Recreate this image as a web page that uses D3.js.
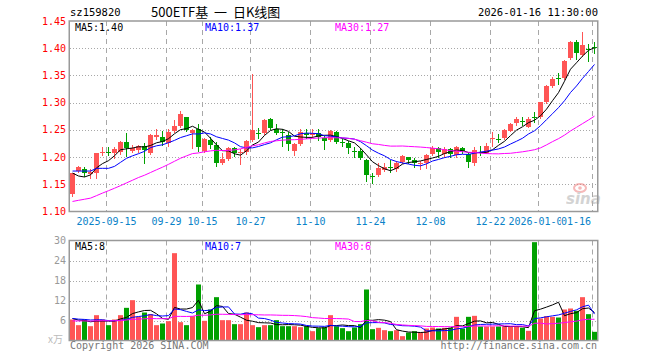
<!DOCTYPE html>
<html><head><meta charset="utf-8">
<script src="https://cdn.jsdelivr.net/npm/d3@7"></script>
<style>body{margin:0;background:#fff}svg{display:block}</style>
</head><body>
<svg id="c" width="660" height="360"></svg>
<script>
// ---------------- data ----------------
const dates = ["2025-09-05","2025-09-08","2025-09-09","2025-09-10","2025-09-11","2025-09-12","2025-09-15","2025-09-16","2025-09-17","2025-09-18","2025-09-19","2025-09-22","2025-09-23","2025-09-24","2025-09-25","2025-09-26","2025-09-29","2025-09-30","2025-10-09","2025-10-10","2025-10-13","2025-10-14","2025-10-15","2025-10-16","2025-10-17","2025-10-20","2025-10-21","2025-10-22","2025-10-23","2025-10-24","2025-10-27","2025-10-28","2025-10-29","2025-10-30","2025-10-31","2025-11-03","2025-11-04","2025-11-05","2025-11-06","2025-11-07","2025-11-10","2025-11-11","2025-11-12","2025-11-13","2025-11-14","2025-11-17","2025-11-18","2025-11-19","2025-11-20","2025-11-21","2025-11-24","2025-11-25","2025-11-26","2025-11-27","2025-11-28","2025-12-01","2025-12-02","2025-12-03","2025-12-04","2025-12-05","2025-12-08","2025-12-09","2025-12-10","2025-12-11","2025-12-12","2025-12-15","2025-12-16","2025-12-17","2025-12-18","2025-12-19","2025-12-22","2025-12-23","2025-12-24","2025-12-25","2025-12-26","2025-12-29","2025-12-30","2025-12-31","2026-01-05","2026-01-06","2026-01-07","2026-01-08","2026-01-09","2026-01-12","2026-01-13","2026-01-14","2026-01-15","2026-01-16"];
const opens  = [1.132,1.175,1.179,1.168,1.170,1.208,1.209,1.207,1.209,1.228,1.212,1.213,1.220,1.207,1.236,1.2375,1.226,1.248,1.258,1.273,1.245,1.251,1.211,1.231,1.222,1.190,1.197,1.216,1.208,1.209,1.231,1.244,1.244,1.270,1.252,1.246,1.2406,1.2114,1.224,1.244,1.241,1.245,1.2346,1.231,1.2456,1.228,1.2265,1.212,1.212,1.1947,1.165,1.167,1.176,1.182,1.178,1.1915,1.200,1.1947,1.188,1.190,1.205,1.216,1.206,1.2149,1.204,1.216,1.205,1.190,1.209,1.208,1.234,1.233,1.2346,1.248,1.262,1.267,1.256,1.273,1.274,1.3015,1.330,1.345,1.345,1.382,1.4114,1.388,1.398,1.402];
const highs  = [1.171,1.183,1.182,1.179,1.208,1.218,1.218,1.218,1.230,1.245,1.222,1.223,1.226,1.243,1.252,1.247,1.252,1.269,1.284,1.274,1.252,1.260,1.235,1.2375,1.227,1.207,1.219,1.219,1.215,1.231,1.352,1.254,1.270,1.271,1.260,1.252,1.2467,1.2254,1.2517,1.251,1.2517,1.2517,1.239,1.250,1.247,1.233,1.230,1.219,1.216,1.196,1.171,1.190,1.190,1.195,1.192,1.203,1.201,1.198,1.193,1.205,1.220,1.218,1.218,1.217,1.221,1.219,1.207,1.218,1.220,1.225,1.2467,1.242,1.252,1.262,1.273,1.274,1.273,1.282,1.302,1.333,1.348,1.355,1.379,1.413,1.4145,1.430,1.408,1.411];
const lows   = [1.128,1.173,1.165,1.161,1.162,1.203,1.204,1.199,1.206,1.202,1.210,1.209,1.190,1.205,1.234,1.222,1.220,1.246,1.256,1.248,1.216,1.212,1.209,1.216,1.184,1.188,1.194,1.202,1.187,1.206,1.229,1.235,1.242,1.251,1.242,1.221,1.213,1.204,1.223,1.235,1.2375,1.231,1.215,1.229,1.226,1.220,1.207,1.201,1.196,1.1566,1.152,1.165,1.175,1.172,1.175,1.190,1.189,1.181,1.178,1.180,1.2035,1.201,1.200,1.201,1.201,1.207,1.181,1.186,1.204,1.207,1.220,1.227,1.233,1.247,1.259,1.259,1.255,1.265,1.272,1.300,1.328,1.334,1.344,1.380,1.381,1.386,1.377,1.392];
const closes = [1.170,1.181,1.170,1.173,1.207,1.209,1.208,1.215,1.228,1.216,1.216,1.220,1.213,1.241,1.241,1.228,1.246,1.258,1.279,1.250,1.250,1.218,1.233,1.222,1.189,1.1965,1.216,1.207,1.209,1.229,1.250,1.243,1.268,1.254,1.245,1.245,1.224,1.224,1.2467,1.241,1.245,1.2375,1.230,1.248,1.2283,1.227,1.2162,1.211,1.199,1.167,1.164,1.1805,1.182,1.181,1.190,1.202,1.195,1.1886,1.189,1.203,1.216,1.210,1.215,1.205,1.219,1.211,1.1915,1.213,1.208,1.220,1.235,1.232,1.250,1.2603,1.270,1.266,1.270,1.272,1.301,1.331,1.344,1.344,1.377,1.411,1.3905,1.405,1.397,1.401];
const volumes = [6.3,4.6,6.3,4.3,7.6,6.3,4.6,6.3,7.6,9.8,12.1,7.1,8.4,7.9,4.6,5.1,5.8,26.2,5.5,4.6,7.3,16.8,5.9,9.3,13.0,6.1,6.1,4.9,4.9,8.4,4.6,4.0,4.6,4.6,6.1,4.3,4.3,4.3,4.0,4.3,2.8,3.7,4.0,7.6,4.3,3.7,2.8,3.9,4.9,15.3,3.4,3.8,3.1,2.8,3.1,1.3,2.4,2.8,2.4,3.6,3.9,3.6,3.8,3.8,7.1,3.6,7.1,7.4,4.2,4.2,4.2,4.2,4.2,4.2,4.2,3.8,2.9,29.5,6.6,7.3,7.1,6.9,9.3,9.6,8.9,13.0,7.9,2.6];
// sessions before the first visible day (only feed the moving averages)
const preCloses = [1.118,1.110,1.112,1.070,1.068,1.076,1.080,1.085,1.065,1.068,1.070,1.088,1.092,1.090,1.085,1.088,1.090,1.112,1.118,1.125,1.181,1.170,1.173,1.157,1.209,1.208,1.179,1.154,1.142];
const preVolumes = [5.2,5.8,6.1,4.9,5.5,5.3,6.0,5.7,4.8,5.6,5.9,5.2,5.4,6.2,5.0,5.7,5.5,5.8,5.3,5.6,6.5,7.2,6.0,6.9,6.4,7.0,6.8,6.3,6.6];
const tickDates  = ["2025-09-15","2025-09-29","2025-10-15","2025-10-27","2025-11-10","2025-11-24","2025-12-08","2025-12-22","2026-01-05","2026-01-16"];
const tickLabels = ["2025-09-15","09-29","10-15","10-27","11-10","11-24","12-08","12-22","2026-01-05","01-16"];
const priceTicks = [1.45,1.40,1.35,1.30,1.25,1.20,1.15,1.10];
const volTicks = [30,24,18,12,6];
const maPeriods = [5,10,30];
const priceLegend = ["MA5:1.40","MA10:1.37","MA30:1.27"];
const volLegend = ["MA5:8","MA10:7","MA30:6"];
const symbol = "sz159820";
const title = "500ETF基 一 日K线图";
const stamp = "2026-01-16 11:30:00";

// ---------------- drawing ----------------
const svg = d3.select("#c");
const MONO = "'DejaVu Sans Mono','Liberation Mono',monospace";
const RED = "#ff5555", GREEN = "#00a000";
const maColors = ["#000000","#0000ff","#ff00ff"];
const L = 70, R = 597;
const x = d3.scaleBand().domain(dates).range([L, R]).paddingInner(1/6).paddingOuter(0);
const y = d3.scaleLinear().domain([1.10, 1.45]).range([211.5, 21]);
const yv = d3.scaleLinear().domain([0, 30]).range([340.5, 240.5]);
const bw = x.bandwidth();
const cx = d => x(d) + Math.floor(bw/2) + 0.5;

function movingAvg(pre, vals, n) {
  const all = pre.concat(vals);
  const off = pre.length;
  return vals.map((_, i) => d3.mean(all.slice(off + i - n + 1, off + i + 1)));
}

// header
svg.append("text").attr("x", 70).attr("y", 16).attr("font-family", MONO).attr("font-size", 10.5).attr("fill", "#000").text(symbol);
svg.append("text").attr("x", 151).attr("y", 17).attr("font-family", "'Noto Sans CJK SC',sans-serif").attr("font-size", 13)
  .attr("fill", "#000").attr("xml:space", "preserve").style("white-space", "pre").text(title.replace(" 一 ", "  一  "));
svg.append("text").attr("x", 598).attr("y", 16).attr("text-anchor", "end").attr("font-family", MONO).attr("font-size", 10.5).attr("fill", "#000").text(stamp);

// grids
const grid = svg.append("g");
priceTicks.slice(1, -1).forEach(t => {
  grid.append("line").attr("x1", L).attr("x2", 597).attr("y1", Math.round(y(t)) + 0.5).attr("y2", Math.round(y(t)) + 0.5)
    .attr("stroke", "#a8a8a8").attr("stroke-dasharray", "1,2");
});
volTicks.slice(1).forEach(t => {
  grid.append("line").attr("x1", L).attr("x2", 597).attr("y1", Math.round(yv(t)) + 0.5).attr("y2", Math.round(yv(t)) + 0.5)
    .attr("stroke", "#a8a8a8").attr("stroke-dasharray", "1,2");
});
tickDates.forEach(d => {
  const xx = x(d) + 0.5;
  [[21, 211.5], [240.5, 340.5]].forEach(([a, b]) => {
    grid.append("line").attr("x1", xx).attr("x2", xx).attr("y1", a).attr("y2", b)
      .attr("stroke", "#a8a8a8").attr("stroke-dasharray", "5,4");
  });
});

// y labels
priceTicks.forEach(t => {
  svg.append("text").attr("x", 66).attr("y", y(t) + 3.5).attr("text-anchor", "end")
    .attr("font-family", MONO).attr("font-size", 10).attr("fill", "#ff0000").text(t.toFixed(2));
});
volTicks.forEach(t => {
  svg.append("text").attr("x", 66).attr("y", yv(t) + 3.5).attr("text-anchor", "end")
    .attr("font-family", MONO).attr("font-size", 10).attr("fill", "#999").text(t);
});
svg.append("text").attr("x", 63).attr("y", 343).attr("text-anchor", "end")
  .attr("font-family", "'Noto Sans CJK SC',sans-serif").attr("font-size", 10).attr("fill", "#bbb").text("x万");

// x labels (the last one is pulled left and drawn over its neighbour, as in the original)
const xl = svg.append("g");
tickDates.forEach((d, k) => {
  const last = k === tickDates.length - 1;
  if (last) {
    xl.append("rect").attr("x", 561).attr("y", 216).attr("width", 31).attr("height", 11).attr("fill", "#fff");
  }
  xl.append("text").attr("x", last ? 591 : x(d) + 0.5).attr("y", 225)
    .attr("text-anchor", last ? "end" : "middle")
    .attr("font-family", MONO).attr("font-size", 10).attr("fill", "#0a82c8").text(tickLabels[k]);
});

// watermark
const wm = svg.append("g").attr("opacity", 0.55);
wm.append("ellipse").attr("cx", 580).attr("cy", 188).attr("rx", 6).attr("ry", 4).attr("fill", "none").attr("stroke", "#f08080").attr("stroke-width", 2);
wm.append("circle").attr("cx", 580).attr("cy", 188).attr("r", 1.8).attr("fill", "#f08080");
wm.append("text").attr("x", 566).attr("y", 204).attr("font-family", "'DejaVu Sans',sans-serif").attr("font-size", 15)
  .attr("font-style", "italic").attr("font-weight", "bold").attr("fill", "#b0b0b0").text("sina");

// candles
const data = dates.map((d, i) => ({d, o: opens[i], h: highs[i], l: lows[i], c: closes[i], v: volumes[i]}));
const candles = svg.append("g");
data.forEach(k => {
  const col = k.c >= k.o ? RED : GREEN;
  candles.append("line").attr("x1", cx(k.d)).attr("x2", cx(k.d))
    .attr("y1", Math.round(y(k.h))).attr("y2", Math.round(y(k.l)) + 1).attr("stroke", col);
  const top = Math.round(y(Math.max(k.o, k.c)));
  const bot = Math.round(y(Math.min(k.o, k.c)));
  candles.append("rect").attr("x", x(k.d)).attr("y", top).attr("width", bw)
    .attr("height", Math.max(1, bot - top)).attr("fill", col);
});

// volume bars
const vol = svg.append("g");
data.forEach(k => {
  const col = k.c >= k.o ? RED : GREEN;
  vol.append("rect").attr("x", x(k.d)).attr("y", yv(k.v)).attr("width", bw)
    .attr("height", yv(0) - yv(k.v)).attr("fill", col);
});

// moving averages
maPeriods.forEach((n, j) => {
  const m = movingAvg(preCloses, closes, n);
  svg.append("path").datum(m).attr("fill", "none").attr("stroke", maColors[j]).attr("stroke-width", 1)
    .attr("d", d3.line().x((v, i) => cx(dates[i])).y(v => y(v)));
  const mv = movingAvg(preVolumes, volumes, n);
  svg.append("path").datum(mv).attr("fill", "none").attr("stroke", maColors[j]).attr("stroke-width", 1)
    .attr("d", d3.line().x((v, i) => cx(dates[i])).y(v => yv(v)));
});

// frames
[[21, 211.5], [240.5, 340.5]].forEach(([a, b]) => {
  svg.append("rect").attr("x", 69.25).attr("y", a).attr("width", 528.5).attr("height", b - a)
    .attr("fill", "none").attr("stroke", "#999").attr("stroke-width", 1.5);
});

// legends
const legX = [75, 205, 335];
priceLegend.forEach((t, j) => {
  svg.append("text").attr("x", legX[j]).attr("y", 31).attr("font-family", MONO).attr("font-size", 10)
    .attr("fill", maColors[j]).text(t);
});
volLegend.forEach((t, j) => {
  svg.append("text").attr("x", legX[j]).attr("y", 250).attr("font-family", MONO).attr("font-size", 10)
    .attr("fill", maColors[j]).text(t);
});

// footer
svg.append("text").attr("x", 70).attr("y", 349).attr("font-family", MONO).attr("font-size", 10).attr("fill", "#777").text("Copyright 2026 SINA.COM");
svg.append("text").attr("x", 597).attr("y", 349).attr("text-anchor", "end").attr("font-family", MONO).attr("font-size", 10).attr("fill", "#777").text("http://finance.sina.com.cn");
</script>
</body></html>
